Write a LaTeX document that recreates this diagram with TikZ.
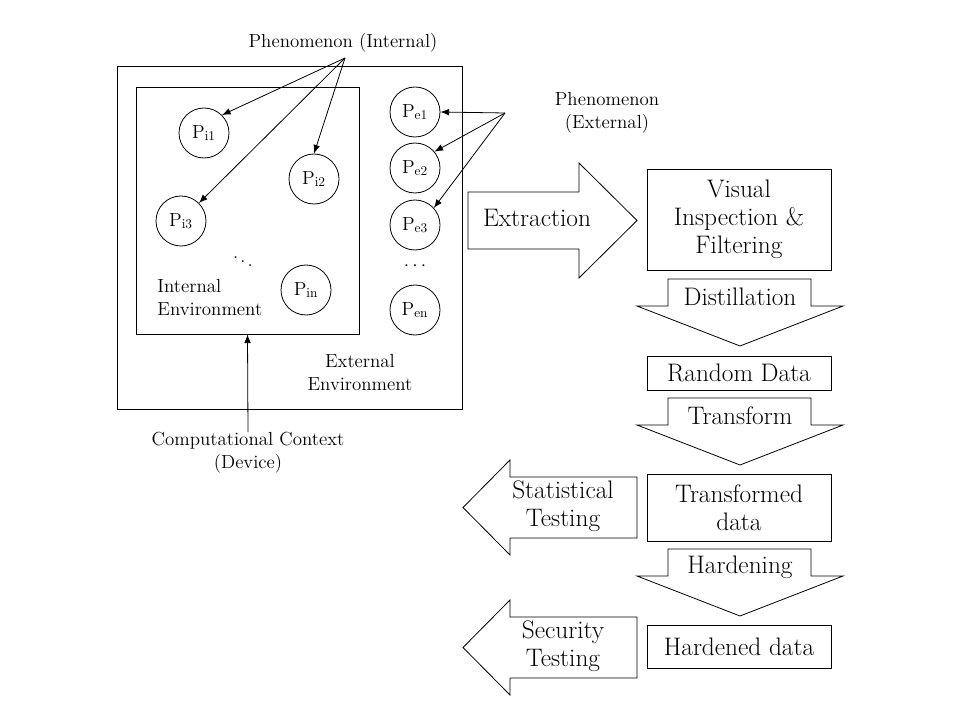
\documentclass[tikz,border=0pt]{standalone}
\usepackage{tikz}
\usetikzlibrary{arrows.meta}
\newcommand{\smalltext}{\fontsize{14.2}{17}\selectfont}
\newcommand{\bigtext}{\fontsize{19}{21}\selectfont}
\newcommand{\phenom}[4]{\node[phen] (#1) at (#2,#3) {P$_{\mathrm{#4}}$};}
\newcommand{\downblock}[3]{
  \draw (668,#2)--++(0,27)--++(-31,0)--(740,#2+67)--(843,#2+27)--++(-32,0)--++(0,-27)--cycle;
  \node[bigtext] (#1) at (740,#2+18) {#3};
}
\newcommand{\leftblock}[3]{
  \draw (637,#2)--++(0,61)--++(-127,0)--++(0,17)--(463,#2+30.5)--(510,#2-17)--++(0,17)--cycle;
  \node[bigtext,align=center] (#1) at (563,#2+29) {#3};
}
\tikzset{
  phen/.style={draw,circle,minimum size=37.5pt,inner sep=0pt,font=\smalltext},
  label/.style={font=\smalltext,align=center,inner sep=0pt},
  bigtext/.style={font=\bigtext,inner sep=0pt},
  databox/.style={draw,font=\bigtext,align=center,minimum width=138pt},
  arr/.style={-{Latex[length=6.5pt,width=5pt]}}
}
\begin{document}
\begin{tikzpicture}[x=0.75pt,y=-0.75pt,line width=0.6pt]
\useasboundingbox (0,0) rectangle (960,720);
% environments
\draw (117,66) rectangle (462,409);
\node[draw,minimum width=167.25pt,minimum height=185.25pt,inner sep=0pt] (inner) at (247.5,210.5) {};
\node[label,align=left,anchor=west] (intenv) at (157,297.5) {Internal\\Environment};
\node[label] (extenv) at (360,372.5) {External\\Environment};
% phenomena
\phenom{pi1}{204}{133}{i1}
\phenom{pi2}{314}{179}{i2}
\phenom{pi3}{181}{221}{i3}
\phenom{pin}{306}{290}{in}
\phenom{pe1}{415}{112}{e1}
\phenom{pe2}{415}{168}{e2}
\phenom{pe3}{415}{225}{e3}
\phenom{pen}{415}{310}{en}
\node[font=\smalltext] (ddots) at (243,258) {$\ddots$};
\node[font=\smalltext] (edots) at (415,266) {$\cdots$};
\node[label] (phint) at (343,43) {Phenomenon (Internal)};
\node[label] (phext) at (607,113) {Phenomenon\\(External)};
\coordinate (phinsrc) at (345,58);
\coordinate (phexsrc) at (505,113);
\draw[arr] (phinsrc) -- (pi1.45);
\draw[arr] (phinsrc) -- (pi2.north);
\draw[arr] (phinsrc) -- (pi3.45);
\draw[arr] (phexsrc) -- (pe1.east);
\draw[arr] (phexsrc) -- (pe2.40);
\draw[arr] (phexsrc) -- (pe3.42);
\node[label] (comp) at (248,453) {Computational Context\\(Device)};
\draw[arr] (comp.north) -- (inner.south);
% pipeline
\draw (468,192)--++(0,57)--++(111,0)--++(0,29)--(637,220.5)--(579,163)--++(0,29)--cycle;
\node[bigtext] (extract) at (537,218) {Extraction};
\node[databox,minimum height=75.75pt] (visual) at (739,219.5) {Visual\\Inspection \&\\Filtering};
\downblock{distill}{279}{Distillation}
\node[databox,minimum height=25.5pt] (random) at (739,373) {Random Data};
\downblock{transform}{398}{Transform}
\node[databox,minimum height=50.25pt] (transformed) at (739,507.5) {Transformed\\data};
\downblock{harden}{549}{Hardening}
\node[databox,minimum height=32.25pt] (hardened) at (739,646.5) {Hardened data};
\leftblock{stat}{477}{Statistical\\Testing}
\leftblock{secur}{617}{Security\\Testing}
\end{tikzpicture}
\end{document}
